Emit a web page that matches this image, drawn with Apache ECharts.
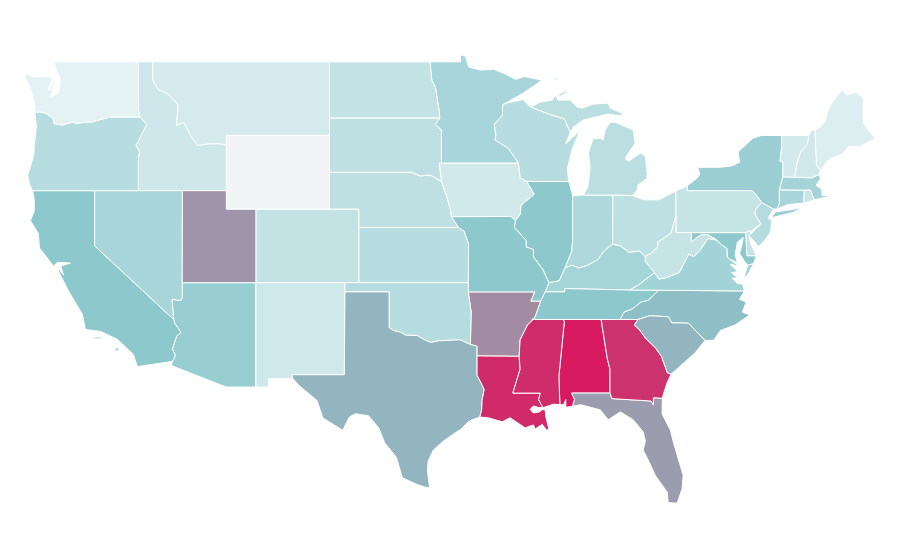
<!DOCTYPE html>
<html>
<head>
<meta charset="utf-8">
<style>
html, body { margin: 0; padding: 0; background: #fff; }
#map { width: 900px; height: 560px; }
</style>
<script src="https://cdn.jsdelivr.net/npm/echarts@6/dist/echarts.min.js"></script>
</head>
<body>
<div id="map"></div>
<script>
var stateNames = ['Alabama','Arizona','Arkansas','California','Colorado','Connecticut','Delaware','Florida','Georgia','Idaho','Illinois','Indiana','Iowa','Kansas','Kentucky','Louisiana','Maine','Maryland','Massachusetts','Michigan','Minnesota','Mississippi','Missouri','Montana','Nebraska','Nevada','New Hampshire','New Jersey','New Mexico','New York','North Carolina','North Dakota','Ohio','Oklahoma','Oregon','Pennsylvania','Rhode Island','South Carolina','South Dakota','Tennessee','Texas','Utah','Vermont','Virginia','Washington','West Virginia','Wisconsin','Wyoming'];
var stateValues = [40,18.6,30,20,13.9,16.8,13.5,27.2,37.9,12.6,20,16.1,12.2,15.1,17,38.7,10.9,19.8,17.2,14.7,16.8,38.5,20,11.8,14.2,16.8,12.3,15.3,12.4,18.3,21.5,13.8,14.3,15.3,15.1,13.4,13.2,23.2,14.2,20,23.2,28.5,12,17.5,10,13.4,15.1,0];
var rampColors = ['#f3f4f6','#e4f2f4','#8cc8cc','#a18ca4','#d81b60'];

// state outlines in lon/lat, each entry is a list of polygons (list of rings)
var stateShapes = {
  'Washington': [[[[-122.76,49],[-117.03,49],[-117.04,46.42],[-116.92,46],[-118.98,46],[-119.3,45.93],[-120.2,45.73],[-120.65,45.73],[-121.2,45.65],[-121.53,45.72],[-122.2,45.57],[-122.76,45.65],[-122.8,45.9],[-123.2,46.15],[-123.55,46.26],[-124.05,46.27],[-124.07,46.7],[-124.15,47],[-124.4,47.6],[-124.73,48.17],[-124.7,48.4],[-124.2,48.18],[-123.14,48.18],[-122.87,48.13],[-123.14,47.47],[-123,47.47],[-122.8,48.02],[-122.67,48.13],[-122.87,47.36],[-123,47.09],[-122.46,47.3],[-122.32,48.07],[-122.6,48.56]]]],
  'Oregon': [[[[-124.07,46.27],[-123.55,46.26],[-123.2,46.15],[-122.8,45.9],[-122.76,45.65],[-122.2,45.57],[-121.53,45.72],[-121.2,45.65],[-120.65,45.73],[-120.2,45.73],[-119.3,45.93],[-118.98,46],[-116.92,46],[-116.47,45.6],[-116.85,45],[-117.2,44.45],[-117.05,44.25],[-116.95,44.1],[-117.03,43.8],[-117.03,42],[-124.21,42],[-124.4,42.3],[-124.55,42.84],[-124.4,43.2],[-124.15,43.9],[-124.07,44.6],[-123.96,45.5]]]],
  'California': [[[[-124.21,42],[-120,42],[-120,39],[-114.63,35],[-114.57,34.8],[-114.14,34.3],[-114.43,34.1],[-114.72,33.4],[-114.52,33.03],[-114.72,32.72],[-117.1,32.44],[-117.37,33.1],[-118.45,33.92],[-119.6,34.35],[-120.63,34.46],[-120.83,35.28],[-121.78,36.55],[-122,36.9],[-122.46,37.63],[-122.46,37.8],[-122.12,37.42],[-122.3,37.9],[-121.65,38.07],[-122.53,38.1],[-122.8,37.9],[-123.75,38.89],[-123.82,39.66],[-124.36,40.37],[-124.1,40.9],[-124.1,41.5]]],[[[-120.05,34.05],[-119.55,34.05],[-119.55,33.95],[-120.05,33.95]]],[[[-118.6,33.45],[-118.35,33.45],[-118.35,33.3],[-118.6,33.3]]]],
  'Nevada': [[[[-120,42],[-114.04,42],[-114.05,36.2],[-114.15,36.03],[-114.75,36.1],[-114.63,35],[-120,39]]]],
  'Idaho': [[[[-117.03,49],[-116.05,49],[-116.05,48],[-115.7,47.5],[-115,47.25],[-114.33,46.65],[-114.45,45.55],[-113.95,45.7],[-113.45,44.95],[-113,44.45],[-112.3,44.55],[-111.5,44.55],[-111.05,44.48],[-111.05,42],[-117.03,42],[-117.03,43.8],[-116.95,44.1],[-117.05,44.25],[-117.2,44.45],[-116.85,45],[-116.47,45.6],[-116.92,46],[-117.04,46.42]]]],
  'Montana': [[[[-116.05,49],[-104.05,49],[-104.05,45],[-111.05,45],[-111.05,44.48],[-111.5,44.55],[-112.3,44.55],[-113,44.45],[-113.45,44.95],[-113.95,45.7],[-114.45,45.55],[-114.33,46.65],[-115,47.25],[-115.7,47.5],[-116.05,48]]]],
  'Wyoming': [[[[-111.05,45],[-104.05,45],[-104.05,41],[-111.05,41]]]],
  'Utah': [[[[-114.04,42],[-111.05,42],[-111.05,41],[-109.05,41],[-109.05,37],[-114.05,37]]]],
  'Colorado': [[[[-109.05,41],[-102.05,41],[-102.05,37],[-109.05,37]]]],
  'Arizona': [[[[-114.05,37],[-109.05,37],[-109.05,31.33],[-111.07,31.33],[-114.8,32.5],[-114.72,32.72],[-114.52,33.03],[-114.72,33.4],[-114.43,34.1],[-114.14,34.3],[-114.57,34.8],[-114.63,35],[-114.75,36.1],[-114.15,36.03],[-114.05,36.2]]]],
  'New Mexico': [[[[-109.05,37],[-103,37],[-103.04,32],[-106.62,32],[-106.53,31.78],[-108.2,31.78],[-108.2,31.33],[-109.05,31.33]]]],
  'Texas': [[[[-103,36.5],[-100,36.5],[-100,34.56],[-99.7,34.4],[-99.2,34.3],[-98.9,34.15],[-98.1,34.13],[-97.6,33.9],[-97.15,33.75],[-96.6,33.85],[-95.8,33.87],[-95.2,33.9],[-94.48,33.64],[-94.04,33.55],[-94.04,33.02],[-94.04,31.99],[-93.55,31.2],[-93.7,30.6],[-93.72,30.1],[-93.85,29.7],[-94.5,29.5],[-94.75,29.35],[-95.1,29.05],[-95.4,28.9],[-96.3,28.4],[-97,27.9],[-97.35,27.3],[-97.4,26.8],[-97.25,25.85],[-97.6,25.9],[-98.2,26.07],[-99.1,26.4],[-99.5,27.5],[-100.3,28.3],[-100.7,29.1],[-101.4,29.77],[-102.3,29.88],[-102.7,29.7],[-103.15,28.98],[-104.5,29.65],[-104.9,30.6],[-106.1,31.4],[-106.53,31.78],[-106.62,32],[-103.04,32]]]],
  'Oklahoma': [[[[-103,37],[-94.62,37],[-94.62,36.5],[-94.43,35.4],[-94.48,33.64],[-95.2,33.9],[-95.8,33.87],[-96.6,33.85],[-97.15,33.75],[-97.6,33.9],[-98.1,34.13],[-98.9,34.15],[-99.2,34.3],[-99.7,34.4],[-100,34.56],[-100,36.5],[-103,36.5]]]],
  'Kansas': [[[[-102.05,40],[-95.3,40],[-94.9,39.8],[-94.6,39.1],[-94.62,37],[-102.05,37]]]],
  'Nebraska': [[[[-104.05,43],[-98.5,43],[-97.9,42.8],[-97.2,42.85],[-96.45,42.5],[-96.1,41.7],[-95.85,41],[-95.77,40.58],[-95.3,40],[-102.05,40],[-102.05,41],[-104.05,41]]]],
  'South Dakota': [[[[-104.05,45.94],[-96.56,45.94],[-96.85,45.6],[-96.45,45.3],[-96.45,43.5],[-96.6,43.5],[-96.45,42.5],[-97.2,42.85],[-97.9,42.8],[-98.5,43],[-104.05,43]]]],
  'North Dakota': [[[[-104.05,49],[-97.23,49],[-97.1,48],[-96.85,47.6],[-96.6,46.3],[-96.56,45.94],[-104.05,45.94]]]],
  'Minnesota': [[[[-97.23,49],[-95.15,49],[-95.15,49.38],[-94.8,49.3],[-94.6,48.72],[-93.8,48.55],[-92.9,48.6],[-92,48.3],[-91.4,48.05],[-90.8,48.2],[-89.6,48],[-90.9,47.3],[-92.1,46.75],[-92.3,46.66],[-92.3,46.1],[-92.85,45.6],[-92.75,45],[-92.8,44.75],[-91.9,44.3],[-91.22,43.5],[-96.45,43.5],[-96.45,45.3],[-96.85,45.6],[-96.56,45.94],[-96.6,46.3],[-96.85,47.6],[-97.1,48]]]],
  'Iowa': [[[[-96.6,43.5],[-91.22,43.5],[-91.1,42.7],[-90.65,42.5],[-90.15,41.8],[-91.05,41.2],[-91.1,40.7],[-91.42,40.38],[-91.72,40.6],[-95.77,40.58],[-95.85,41],[-96.1,41.7],[-96.45,42.5]]]],
  'Missouri': [[[[-95.77,40.58],[-91.72,40.6],[-91.42,40.38],[-91.5,40],[-90.7,39.3],[-90.7,38.95],[-90.2,38.8],[-90.2,38.4],[-89.55,37.7],[-89.15,37],[-89.4,36.5],[-89.7,36],[-90.37,36],[-90.1,36.5],[-94.62,36.5],[-94.62,37],[-94.6,39.1],[-94.9,39.8],[-95.3,40]]]],
  'Arkansas': [[[[-94.62,36.5],[-90.1,36.5],[-90.37,36],[-89.7,36],[-90.1,35.1],[-90.6,34.7],[-91.1,33.9],[-91.17,33],[-94.04,33.02],[-94.04,33.55],[-94.48,33.64],[-94.43,35.4]]]],
  'Louisiana': [[[[-94.04,33.02],[-91.17,33],[-91.1,32.3],[-91.6,31],[-89.73,31],[-89.85,30.65],[-89.55,30.2],[-89.85,30.22],[-90.2,30.3],[-90.42,30.12],[-90.2,29.92],[-89.8,29.98],[-89.6,30.1],[-89.4,30.09],[-89.35,29.7],[-89.15,29.05],[-89.3,28.98],[-89.6,29.3],[-90.08,29.05],[-90.2,29.27],[-90.76,29.11],[-91.78,29.66],[-92.32,29.44],[-93.27,29.66],[-93.85,29.7],[-93.72,30.1],[-93.7,30.6],[-93.55,31.2],[-94.04,31.99]]]],
  'Mississippi': [[[[-90.3,35],[-88.2,35],[-88.1,34.9],[-88.47,31.9],[-88.4,30.37],[-88.85,30.4],[-89.55,30.2],[-89.85,30.65],[-89.73,31],[-91.6,31],[-91.1,32.3],[-91.17,33],[-91.1,33.9],[-90.6,34.7],[-90.1,35.1]]]],
  'Alabama': [[[[-88.2,35],[-85.6,35],[-85.18,32.87],[-85,32.3],[-85,31],[-87.6,31],[-87.4,30.65],[-87.55,30.28],[-88,30.23],[-88,30.65],[-88.15,30.37],[-88.4,30.37],[-88.47,31.9],[-88.1,34.9]]]],
  'Georgia': [[[[-85.6,35],[-83.1,35],[-83.35,34.7],[-83,34.45],[-82.55,33.95],[-81.95,33.5],[-81.5,33],[-81.1,32.1],[-80.85,32.03],[-81.15,31.5],[-81.45,30.72],[-82.05,30.75],[-82.05,30.36],[-82.2,30.57],[-84.86,30.7],[-85,31],[-85,32.3],[-85.18,32.87]]]],
  'Florida': [[[[-87.6,31],[-85,31],[-84.86,30.7],[-82.2,30.57],[-82.05,30.36],[-82.05,30.75],[-81.45,30.72],[-81.46,29.87],[-80.9,29],[-80.7,28.34],[-80.03,26.54],[-80.1,25.8],[-80.44,25.02],[-81.05,25.05],[-81.1,25.6],[-81.93,26.54],[-82.4,27.36],[-82.74,27.9],[-82.6,28.4],[-82.74,28.89],[-83.42,29.55],[-84.3,29.98],[-85.12,29.55],[-85.66,30.09],[-87,30.37],[-87.55,30.28],[-87.4,30.65]]]],
  'South Carolina': [[[[-83.35,34.7],[-83.1,35],[-82.3,35.2],[-81.05,35.15],[-80.8,34.82],[-79.67,34.8],[-78.55,33.86],[-79.2,33.2],[-79.9,32.7],[-80.85,32.03],[-81.1,32.1],[-81.5,33],[-81.95,33.5],[-82.55,33.95],[-83,34.45]]]],
  'North Carolina': [[[[-84.32,35],[-84.05,35.4],[-83.5,35.57],[-82.9,35.95],[-82.4,36.05],[-81.68,36.59],[-75.87,36.55],[-76.2,36.1],[-75.75,35.95],[-76,35.4],[-75.5,35.25],[-76.5,34.7],[-77.5,34.4],[-77.95,33.87],[-78.55,33.86],[-79.67,34.8],[-80.8,34.82],[-81.05,35.15],[-82.3,35.2],[-83.1,35]]]],
  'Tennessee': [[[[-90.3,35],[-88.2,35],[-85.6,35],[-84.32,35],[-84.05,35.4],[-83.5,35.57],[-82.9,35.95],[-82.4,36.05],[-81.68,36.59],[-83.68,36.6],[-88.07,36.68],[-88.07,36.5],[-89.4,36.5],[-89.7,36],[-90.1,35.1]]]],
  'Kentucky': [[[[-89.4,36.5],[-88.07,36.5],[-88.07,36.68],[-83.68,36.6],[-83.1,36.85],[-82.7,37.1],[-81.97,37.54],[-82.6,38.17],[-82.6,38.42],[-83,38.73],[-83.7,38.65],[-84.3,39],[-84.82,39.1],[-85.4,38.73],[-85.8,38.27],[-86.5,37.95],[-87.1,37.8],[-87.6,37.95],[-88.05,37.8],[-88.45,37.1],[-89.15,37]]]],
  'Illinois': [[[[-91.42,40.38],[-91.1,40.7],[-91.05,41.2],[-90.15,41.8],[-90.65,42.5],[-87.8,42.5],[-87.55,41.8],[-87.53,41.72],[-87.53,39.35],[-87.6,38.7],[-88.05,37.8],[-88.45,37.1],[-89.15,37],[-89.55,37.7],[-90.2,38.4],[-90.2,38.8],[-90.7,38.95],[-90.7,39.3],[-91.5,40]]]],
  'Indiana': [[[[-87.53,41.72],[-87.2,41.75],[-86.82,41.76],[-84.8,41.76],[-84.82,39.1],[-85.4,38.73],[-85.8,38.27],[-86.5,37.95],[-87.1,37.8],[-87.6,37.95],[-88.05,37.8],[-87.6,38.7],[-87.53,39.35]]]],
  'Ohio': [[[[-84.8,41.76],[-83.45,41.73],[-82.7,41.5],[-81.7,41.5],[-80.52,41.98],[-80.52,40.64],[-80.85,39.7],[-81.75,39.2],[-81.75,38.95],[-82.2,38.6],[-82.6,38.42],[-83,38.73],[-83.7,38.65],[-84.3,39],[-84.82,39.1]]]],
  'West Virginia': [[[[-82.6,38.42],[-82.2,38.6],[-81.75,38.95],[-81.75,39.2],[-80.85,39.7],[-80.52,40.64],[-80.52,39.72],[-79.48,39.72],[-79.48,39.2],[-79.1,39.45],[-78.8,39.6],[-78.4,39.62],[-77.75,39.32],[-78.35,39.4],[-78.87,38.77],[-79.3,38.42],[-79.65,38.55],[-80.3,37.55],[-81.25,37.25],[-81.68,37.2],[-81.97,37.54],[-82.6,38.17]]]],
  'Virginia': [[[[-83.68,36.6],[-81.68,36.59],[-75.87,36.55],[-76,36.93],[-76.35,36.95],[-76.7,37.25],[-76.3,37.25],[-76.75,37.55],[-76.3,37.6],[-76.85,38],[-76.25,37.9],[-77.05,38.4],[-77.05,38.85],[-77.5,39.1],[-77.75,39.32],[-78.35,39.4],[-78.87,38.77],[-79.3,38.42],[-79.65,38.55],[-80.3,37.55],[-81.25,37.25],[-81.68,37.2],[-81.97,37.54],[-82.7,37.1],[-83.1,36.85]]],[[[-75.95,37.15],[-75.65,37.95],[-75.25,38.03],[-75.6,37.5]]]],
  'Maryland': [[[[-79.48,39.72],[-75.79,39.72],[-75.7,38.46],[-75.05,38.45],[-75.25,38.03],[-75.65,37.95],[-75.9,38.2],[-76.2,38.6],[-76.05,39],[-75.95,39.45],[-76.35,39.2],[-76.5,38.5],[-76.35,38.1],[-76.95,38.3],[-77.05,38.4],[-77.05,38.85],[-77.5,39.1],[-77.75,39.32],[-78.4,39.62],[-78.8,39.6],[-79.1,39.45],[-79.48,39.2]]]],
  'Delaware': [[[[-75.79,39.72],[-75.5,39.83],[-75.4,39.8],[-75.55,39.45],[-75.4,39.05],[-75.05,38.45],[-75.7,38.46]]]],
  'Pennsylvania': [[[[-80.52,41.98],[-79.76,42.27],[-79.76,42],[-75.35,42],[-75.05,41.75],[-74.7,41.36],[-75.1,41],[-75.15,40.7],[-74.75,40.2],[-75.4,39.8],[-75.5,39.83],[-75.79,39.72],[-80.52,39.72]]]],
  'New Jersey': [[[[-74.7,41.36],[-73.9,41],[-74.25,40.5],[-74,40.4],[-74.1,39.75],[-74.4,39.4],[-74.9,38.95],[-75.15,39.2],[-75.55,39.55],[-74.75,40.2],[-75.15,40.7],[-75.1,41]]]],
  'New York': [[[[-79.76,42.27],[-79.05,42.7],[-78.9,42.9],[-79.05,43.27],[-77.5,43.27],[-76.7,43.35],[-76.2,43.55],[-76.3,44.1],[-75.3,44.85],[-74.7,45],[-73.35,45],[-73.35,44.3],[-73.45,43.6],[-73.25,43.55],[-73.27,42.75],[-73.5,42.05],[-73.5,41.3],[-73.65,41],[-73.9,41],[-74.7,41.36],[-75.05,41.75],[-75.35,42],[-79.76,42]]],[[[-74,40.6],[-73.75,40.85],[-72.6,40.98],[-72,41.1],[-72.5,40.83],[-73.9,40.55]]]],
  'Vermont': [[[[-73.35,45],[-71.5,45],[-71.6,44.5],[-72.05,44.1],[-72.3,43.5],[-72.46,42.73],[-73.27,42.75],[-73.25,43.55],[-73.45,43.6],[-73.35,44.3]]]],
  'New Hampshire': [[[[-71.5,45],[-71.3,45.3],[-71.08,45.3],[-70.98,43.4],[-70.7,43.07],[-70.82,42.87],[-71.3,42.7],[-72.46,42.73],[-72.3,43.5],[-72.05,44.1],[-71.6,44.5]]]],
  'Maine': [[[[-71.08,45.3],[-70.8,45.4],[-70.4,45.75],[-70.25,46.2],[-70,46.7],[-69.25,47.45],[-68.9,47.2],[-68.3,47.35],[-67.8,47.07],[-67.8,45.7],[-67.45,45.3],[-67,44.85],[-68,44.4],[-68.8,44.4],[-69.2,44],[-70,43.75],[-70.3,43.55],[-70.7,43.07],[-70.98,43.4]]]],
  'Massachusetts': [[[[-73.5,42.05],[-73.27,42.75],[-72.46,42.73],[-71.3,42.7],[-70.82,42.87],[-70.7,42.65],[-71,42.3],[-70.6,42.05],[-70.6,41.75],[-70,41.7],[-70.6,41.6],[-71.12,41.5],[-71.38,42.02],[-71.8,42.02]]]],
  'Connecticut': [[[[-73.5,42.05],[-71.8,42.02],[-71.85,41.32],[-72.9,41.25],[-73.65,41],[-73.5,41.3]]]],
  'Rhode Island': [[[[-71.8,42.02],[-71.38,42.02],[-71.12,41.5],[-71.85,41.32]]]],
  'Wisconsin': [[[[-92.3,46.66],[-92.1,46.75],[-90.9,46.95],[-90.4,46.55],[-89.1,46.14],[-88.1,45.9],[-87.8,45.35],[-87.7,45.15],[-88,44.55],[-87.05,45.25],[-87.55,44.3],[-87.9,43.2],[-87.8,42.5],[-90.65,42.5],[-91.1,42.7],[-91.22,43.5],[-91.9,44.3],[-92.8,44.75],[-92.75,45],[-92.85,45.6],[-92.3,46.1]]]],
  'Michigan': [[[[-86.82,41.76],[-84.8,41.76],[-83.45,41.73],[-83.15,42.05],[-83.1,42.3],[-82.5,42.65],[-82.47,42.93],[-82.6,43.9],[-82.95,44.03],[-83.76,43.59],[-83.97,43.75],[-83.3,44.57],[-83.4,45.28],[-84.65,45.72],[-85,45.72],[-85.33,45.28],[-85.47,44.74],[-85.66,44.85],[-86.14,44.85],[-86.48,44.03],[-86.34,43.26],[-86.5,42.2]]],[[[-90.4,46.55],[-89.74,46.81],[-88.92,46.92],[-88.72,47.2],[-88.51,46.92],[-87.7,46.92],[-87.22,46.54],[-86.89,46.49],[-86.14,46.7],[-85.12,46.76],[-84.99,46.49],[-84.17,46.21],[-84.1,46.1],[-84.65,46.1],[-85.12,46.16],[-86,46],[-86.82,45.83],[-87.5,45.45],[-87.7,45.15],[-87.8,45.35],[-88.1,45.9],[-89.1,46.14]]],[[[-88.52,47.22],[-87.85,47.47],[-87.9,47.36],[-88.4,47.12]]],[[[-89.2,47.87],[-88.5,48.17],[-88.55,48.05]]]]
};

var usaGeo = {
  type: 'FeatureCollection',
  features: stateNames.map(function (name) {
    return {
      type: 'Feature',
      properties: { name: name },
      geometry: { type: 'MultiPolygon', coordinates: stateShapes[name] }
    };
  })
};

echarts.registerMap('USA', usaGeo);

var chart = echarts.init(document.getElementById('map'));
var option = {
  backgroundColor: '#fff',
  animation: false,
  tooltip: { trigger: 'item' },
  visualMap: {
    show: false,
    min: 0,
    max: 40,
    inRange: { color: rampColors }
  },
  series: [
    {
      type: 'map',
      map: 'USA',
      roam: false,
      aspectScale: 0.8,
      layoutCenter: [450, 279],
      layoutSize: 850,
      label: { show: false },
      itemStyle: { borderColor: '#fff', borderWidth: 1 },
      emphasis: { label: { show: false } },
      data: stateNames.map(function (name, i) {
        return { name: name, value: stateValues[i] };
      })
    }
  ]
};
chart.setOption(option);
window.onresize = chart.resize;
</script>
</body>
</html>
